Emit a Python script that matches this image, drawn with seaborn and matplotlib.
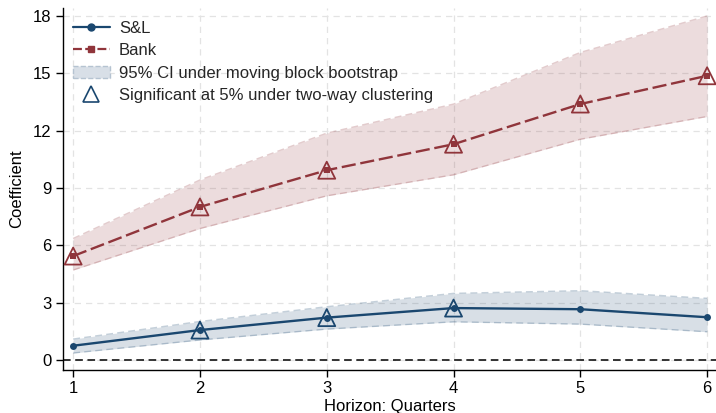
import matplotlib
matplotlib.use("Agg")
import matplotlib.pyplot as plt
import seaborn as sns
import pandas as pd
from matplotlib.lines import Line2D
from matplotlib.patches import Patch

sns.set_theme(style="white")
plt.rcParams["font.family"] = ["Liberation Sans", "DejaVu Sans"]

horizon = [1, 2, 3, 4, 5, 6]

sl_coef = [0.75, 1.57, 2.22, 2.72, 2.66, 2.24]
sl_lo = [0.37, 1.05, 1.62, 2.0, 1.88, 1.48]
sl_hi = [1.1, 2.02, 2.79, 3.49, 3.63, 3.23]
sl_sig = [False, True, True, True, False, False]

bank_coef = [5.44, 8.01, 9.93, 11.29, 13.39, 14.87]
bank_lo = [4.71, 6.88, 8.59, 9.69, 11.55, 12.74]
bank_hi = [6.36, 9.42, 11.87, 13.39, 16.09, 18.0]
bank_sig = [True, True, True, True, True, True]

navy = "#1a476f"
maroon = "#90353b"

df = pd.DataFrame({
    "h": horizon * 2,
    "coef": sl_coef + bank_coef,
    "lo": sl_lo + bank_lo,
    "hi": sl_hi + bank_hi,
    "sig": sl_sig + bank_sig,
    "group": ["S&L"] * 6 + ["Bank"] * 6,
})

fig, ax = plt.subplots(figsize=(7.16, 4.13), dpi=100)

# confidence bands (translucent so the grid shows through)
for g, col in [("Bank", maroon), ("S&L", navy)]:
    d = df[df.group == g]
    ax.fill_between(d.h, d.lo, d.hi, color=col, alpha=0.17, linewidth=0,
                    zorder=1)
    for edge in ["lo", "hi"]:
        ax.plot(d.h, d[edge], color=col, alpha=0.25, linewidth=1.0,
                linestyle=(0, (5, 3)), zorder=1)

ax.axhline(0, color="black", linestyle=(0, (5, 3)), linewidth=1.1, zorder=2)

sns.lineplot(data=df[df.group == "S&L"], x="h", y="coef", color=navy,
             marker="o", markersize=5, markeredgewidth=0, linewidth=1.7,
             ax=ax, zorder=3)
sns.lineplot(data=df[df.group == "Bank"], x="h", y="coef", color=maroon,
             marker="s", markersize=5, markeredgewidth=0, linewidth=1.7,
             linestyle=(0, (6, 2)), ax=ax, zorder=3)

# significance triangles
for g, col in [("S&L", navy), ("Bank", maroon)]:
    d = df[(df.group == g) & df.sig]
    ax.scatter(d.h, d.coef, marker="^", s=150, facecolors="none",
               edgecolors=col, linewidths=1.3, zorder=4, clip_on=False)

ax.set_xlim(0.92, 6.07)
ax.set_ylim(-0.5, 18.4)
ax.set_xticks(horizon)
ax.set_yticks([0, 3, 6, 9, 12, 15, 18])
ax.grid(True, color="#e3e3e3", linestyle=(0, (5, 4)), linewidth=0.9)
ax.set_axisbelow(True)
sns.despine(ax=ax)
for s in ["left", "bottom"]:
    ax.spines[s].set_color("black")
    ax.spines[s].set_linewidth(1.0)
ax.tick_params(axis="both", which="both", direction="out", length=5,
               width=1, color="black", labelsize=12, labelcolor="black",
               left=True, bottom=True)
ax.set_xlabel("Horizon: Quarters", fontsize=12, color="black", labelpad=2)
ax.set_ylabel("Coefficient", fontsize=12, color="black", labelpad=6)

handles = [
    Line2D([], [], color=navy, marker="o", markersize=5, linewidth=1.6),
    Line2D([], [], color=maroon, marker="s", markersize=5, linewidth=1.6,
           linestyle=(0, (4, 1.5))),
    Patch(facecolor="#d8dfe7", edgecolor="#b5c3d1", linestyle="--"),
    Line2D([], [], color=navy, marker="^", markersize=12, linestyle="none",
           markerfacecolor="none", markeredgewidth=1.2),
]
labels = ["S&L", "Bank", "95% CI under moving block bootstrap",
          "Significant at 5% under two-way clustering"]
ax.legend(handles, labels, loc="upper left", frameon=False, fontsize=12,
          handlelength=2.2, handletextpad=0.55, borderaxespad=0.2,
          labelspacing=0.45, bbox_to_anchor=(0.0, 0.993))

fig.subplots_adjust(left=0.088, right=1.0, top=0.98, bottom=0.105)
fig.savefig("out.png", dpi=100)
